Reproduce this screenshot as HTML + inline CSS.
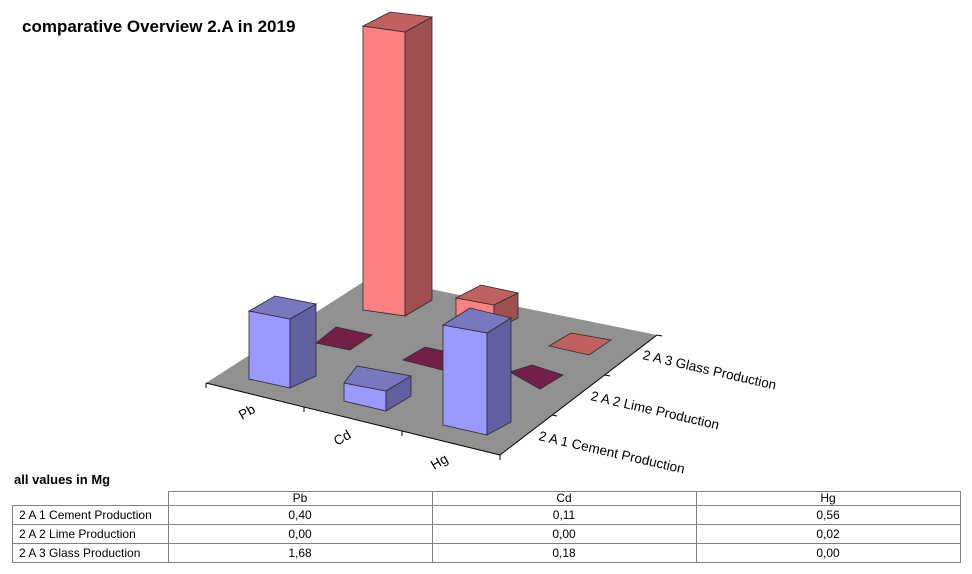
<!DOCTYPE html>
<html><head><style>
body{margin:0;background:#fff;width:972px;height:574px;position:relative;font-family:"Liberation Sans",Arial,sans-serif;overflow:hidden}
table{position:absolute;border-collapse:collapse;font-size:12px}
td{border:1px solid #808080;padding:0 0 0 6px;height:18px;line-height:17px}
tr.h td{height:13px;line-height:13px}
td.c{text-align:center;padding:0;width:263px}
</style></head><body>
<svg width="972" height="574" style="position:absolute;left:0;top:0" font-family="Liberation Sans, Arial, sans-serif">
<text x="22" y="32" font-size="17" font-weight="bold">comparative Overview 2.A in 2019</text>
<polygon points="206,383 500,455 657,335 371,277" fill="#919191"/>
<g stroke="#000" stroke-width="1">
<line x1="206" y1="383" x2="500" y2="455"/><line x1="500" y1="455" x2="657" y2="335"/>
<line x1="206" y1="383" x2="206" y2="388"/><line x1="304" y1="407" x2="304" y2="412"/><line x1="402" y1="431" x2="402" y2="436"/><line x1="500" y1="455" x2="500" y2="460"/>
<line x1="552" y1="415" x2="557" y2="416"/><line x1="605" y1="375" x2="610" y2="376"/><line x1="657" y1="335" x2="662" y2="336"/>
</g>
<g stroke="#2a2a2a" stroke-width="0.8">
<polygon points="363,26 405,32 405,316 363,310" fill="#ff8080"/>
<polygon points="405,32 432,17 432,300 405,316" fill="#a05050"/>
<polygon points="363,26 390,12 432,17 405,32" fill="#c06060"/>
<polygon points="456,298 494,305 494,330 456,323" fill="#ff8080"/>
<polygon points="494,305 518,293 518,318 494,330" fill="#a05050"/>
<polygon points="456,298 481,285 518,293 494,305" fill="#c06060"/>
<polygon points="549,346 571,333 611,340 589,355" fill="#c06060"/>
<polygon points="316,343 336,327 372,335 350,350" fill="#722048"/>
<polygon points="403,360 425,347 470,357 450,372" fill="#722048"/>
<polygon points="510,372 532,365 563,375 540,389" fill="#722048"/>
<polygon points="249,311 290,319 290,388 249,379" fill="#9999ff"/>
<polygon points="290,319 316,304 316,376 290,388" fill="#6060a0"/>
<polygon points="249,311 275,296 316,304 290,319" fill="#7878c0"/>
<polygon points="344,383 386,391 386,411 344,401" fill="#9999ff"/>
<polygon points="386,391 411,376 411,396 386,411" fill="#6060a0"/>
<polygon points="344,383 357,366 411,376 386,391" fill="#7878c0"/>
<polygon points="443,325 487,333 487,435 443,425" fill="#9999ff"/>
<polygon points="487,333 511,318 511,422 487,435" fill="#6060a0"/>
<polygon points="443,325 470,308 511,318 487,333" fill="#7878c0"/>
</g>
<g font-size="13.5">
<text transform="translate(242,420) rotate(-30)">Pb</text>
<text transform="translate(337,446) rotate(-30)">Cd</text>
<text transform="translate(434,470) rotate(-30)">Hg</text>
<text transform="translate(538,440) rotate(13)">2 A 1 Cement Production</text>
<text transform="translate(590,400) rotate(13)">2 A 2 Lime Production</text>
<text transform="translate(642,359) rotate(13)">2 A 3 Glass Production</text>
</g>
<text x="14" y="484" font-size="13" font-weight="bold">all values in Mg</text>
</svg>
<table style="left:12px;top:491px">
<tr class="h"><td style="border:none;border-bottom:1px solid #808080;width:149px"></td><td class="c">Pb</td><td class="c">Cd</td><td class="c">Hg</td></tr>
<tr><td>2 A 1 Cement Production</td><td class="c">0,40</td><td class="c">0,11</td><td class="c">0,56</td></tr>
<tr><td>2 A 2 Lime Production</td><td class="c">0,00</td><td class="c">0,00</td><td class="c">0,02</td></tr>
<tr><td>2 A 3 Glass Production</td><td class="c">1,68</td><td class="c">0,18</td><td class="c">0,00</td></tr>
</table>
</body></html>
